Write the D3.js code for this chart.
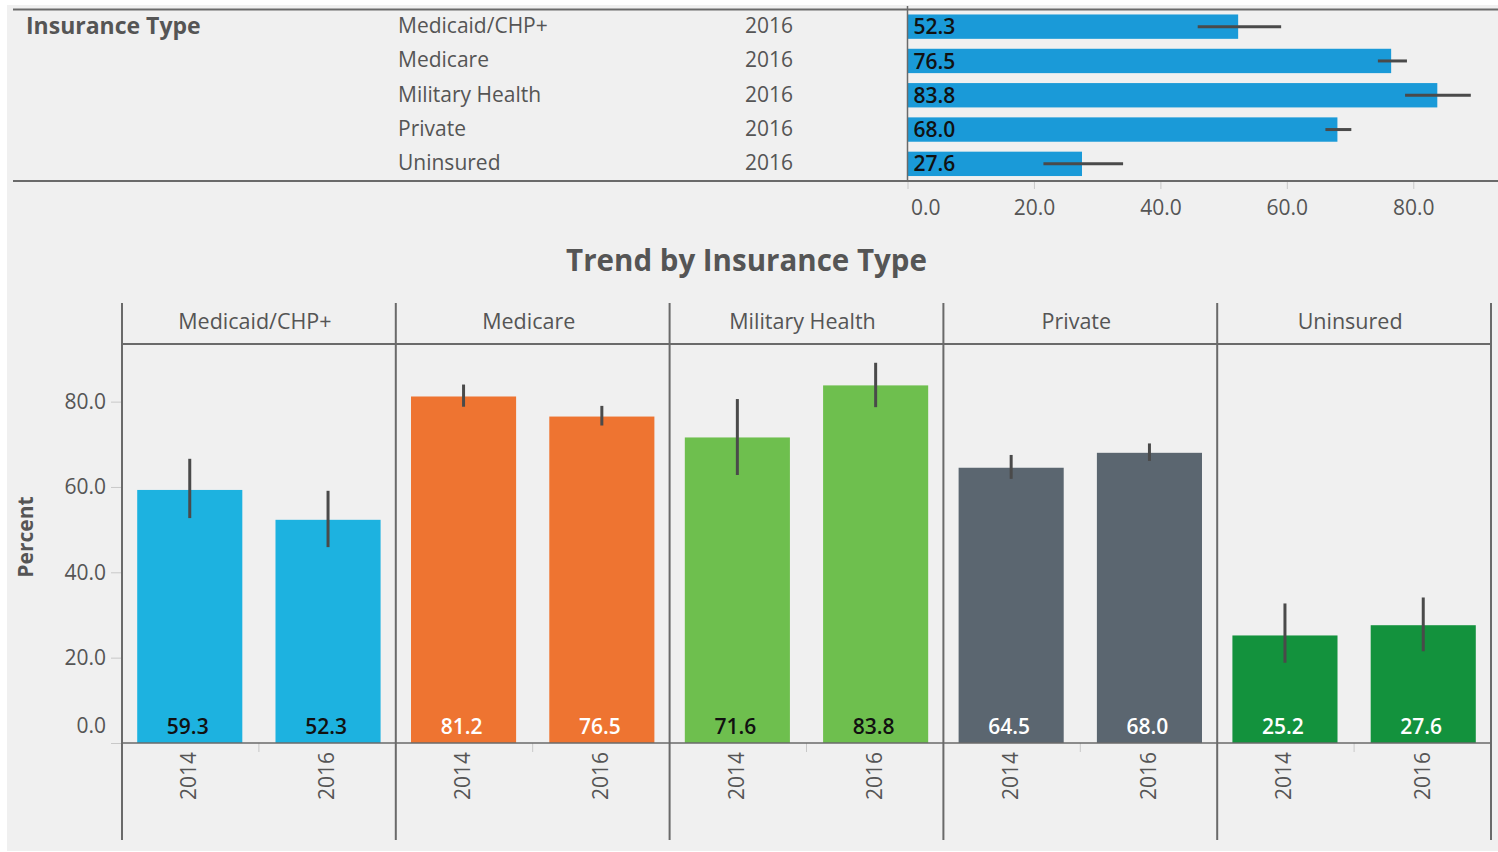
<!DOCTYPE html>
<html>
<head>
<meta charset="utf-8">
<script src="https://cdn.jsdelivr.net/npm/d3@7"></script>
<style>
  body { margin: 0; background: #fff; }
  text { font-family: "Open Sans", "Noto Sans", sans-serif; fill: #555; }
</style>
</head>
<body>
<div id="chart"></div>
<script>
// insurance types and survey years
var types = ["Medicaid/CHP+", "Medicare", "Military Health", "Private", "Uninsured"];
var years = ["2014", "2016"];

// percent values per year
var values2014 = [59.3, 81.2, 71.6, 64.5, 25.2];
var values2016 = [52.3, 76.5, 83.8, 68.0, 27.6];

// confidence intervals
var low2014 = [52.7, 78.8, 62.8, 61.9, 18.8];
var high2014 = [66.6, 84.0, 80.6, 67.5, 32.7];
var low2016 = [45.9, 74.4, 78.7, 66.1, 21.5];
var high2016 = [59.1, 79.0, 89.1, 70.2, 34.1];

var tickValues = [0, 20, 40, 60, 80];

var colors = ["#1db2e0", "#ee7431", "#6ebf4e", "#5b6670", "#13923d"];
var labelColors = ["#111", "#fff", "#111", "#fff", "#fff"];
var topBarColor = "#1a9ad8";
var lineColor = "#6a6a6a";
var tickColor = "#c8c8c8";

var W = 1498, H = 852;
var svg = d3.select("#chart").append("svg")
    .attr("width", W).attr("height", H);

svg.append("rect")
    .attr("x", 7).attr("y", 5)
    .attr("width", W - 7).attr("height", 846)
    .attr("fill", "#f0f0f0");

var fmt = d3.format(".1f");

// ---------- top: 2016 summary bars ----------
var topTop = 9.5, topBottom = 181;
var xTop = d3.scaleLinear().domain([0, 93.4]).range([907.5, W]);
var yTop = d3.scaleBand().domain(types).range([topTop, topBottom]).paddingInner(0.29).paddingOuter(0.145);

var topG = svg.append("g");

topG.append("text")
    .attr("x", 26).attr("y", yTop(types[0]) + yTop.bandwidth() / 2 - 1)
    .attr("dy", "0.35em")
    .style("font-size", "23px").style("font-weight", "bold")
    .text("Insurance Type");

topG.selectAll(".row-label").data(types).enter().append("text")
    .attr("class", "row-label")
    .attr("x", 398)
    .attr("y", d => yTop(d) + yTop.bandwidth() / 2 - 1)
    .attr("dy", "0.35em")
    .style("font-size", "21px")
    .text(d => d);

topG.selectAll(".row-year").data(types).enter().append("text")
    .attr("class", "row-year")
    .attr("x", 745)
    .attr("y", d => yTop(d) + yTop.bandwidth() / 2 - 1)
    .attr("dy", "0.35em")
    .style("font-size", "21px")
    .text(years[1]);

topG.selectAll(".top-bar").data(types).enter().append("rect")
    .attr("class", "top-bar")
    .attr("x", xTop(0))
    .attr("y", d => yTop(d))
    .attr("width", (d, i) => xTop(values2016[i]) - xTop(0))
    .attr("height", yTop.bandwidth())
    .attr("fill", topBarColor);

topG.selectAll(".top-err").data(types).enter().append("line")
    .attr("class", "top-err")
    .attr("x1", (d, i) => xTop(low2016[i]))
    .attr("x2", (d, i) => xTop(high2016[i]))
    .attr("y1", d => yTop(d) + yTop.bandwidth() / 2)
    .attr("y2", d => yTop(d) + yTop.bandwidth() / 2)
    .attr("stroke", "#4a4a4a").attr("stroke-width", 3);

topG.selectAll(".top-val").data(types).enter().append("text")
    .attr("class", "top-val")
    .attr("x", xTop(0) + 6)
    .attr("y", d => yTop(d) + yTop.bandwidth() / 2)
    .attr("dy", "0.36em")
    .style("font-size", "21px").style("font-weight", 600)
    .style("fill", "#111")
    .text((d, i) => fmt(values2016[i]));

// top axis
var topAxis = topG.append("g")
    .attr("transform", "translate(0," + topBottom + ")")
    .call(d3.axisBottom(xTop).tickValues(tickValues).tickFormat(fmt).tickSize(8).tickPadding(11));
topAxis.select(".domain").remove();
topAxis.selectAll("line").attr("stroke", tickColor);
topAxis.selectAll("text")
    .style("font-size", "21px").style("fill", "#555").style("font-family", null)
    .attr("text-anchor", d => d === 0 ? "start" : "middle")
    .attr("x", d => d === 0 ? 3 : 0);

topG.append("line")
    .attr("x1", 13).attr("x2", W).attr("y1", topTop).attr("y2", topTop)
    .attr("stroke", lineColor).attr("stroke-width", 2);
topG.append("line")
    .attr("x1", 13).attr("x2", W).attr("y1", topBottom).attr("y2", topBottom)
    .attr("stroke", lineColor).attr("stroke-width", 2);
topG.append("line")
    .attr("x1", xTop(0)).attr("x2", xTop(0)).attr("y1", 6).attr("y2", topBottom)
    .attr("stroke", lineColor).attr("stroke-width", 1.5);

// ---------- bottom: trend by insurance type ----------
var left = 122, right = 1491;
var headTop = 303, headBottom = 344, base = 743, axisBottom = 840;

svg.append("text")
    .attr("x", (left + right) / 2 - 60).attr("y", 261)
    .attr("dy", "0.35em")
    .attr("text-anchor", "middle")
    .style("font-size", "29.5px").style("font-weight", "bold")
    .text("Trend by Insurance Type");

var xPanel = d3.scaleBand().domain(types).range([left, right]);
var xYear = d3.scaleBand().domain(years).range([0, xPanel.bandwidth()]).paddingInner(0.24).paddingOuter(0.11);
var y = d3.scaleLinear().domain([0, 93.5]).range([base, headBottom]);

// y axis
var yAxis = svg.append("g")
    .attr("transform", "translate(" + left + ",0)")
    .call(d3.axisLeft(y).tickValues(tickValues).tickFormat(fmt).tickSize(11).tickPadding(5));
yAxis.select(".domain").remove();
yAxis.selectAll("line").attr("stroke", tickColor);
yAxis.selectAll("text")
    .style("font-size", "21px").style("fill", "#555").style("font-family", null)
    .attr("y", d => d === 0 ? -17 : 0);

svg.append("text")
    .attr("transform", "translate(26,537) rotate(-90)")
    .attr("text-anchor", "middle").attr("dy", "0.35em")
    .style("font-size", "21px").style("font-weight", "bold")
    .text("Percent");

var panels = svg.selectAll(".panel").data(types).enter().append("g")
    .attr("class", "panel")
    .attr("transform", d => "translate(" + xPanel(d) + ",0)");

panels.append("text")
    .attr("x", xPanel.bandwidth() / 2 - 4).attr("y", 321)
    .attr("dy", "0.35em").attr("text-anchor", "middle")
    .style("font-size", "21.5px")
    .text(d => d);

var rows = [];
types.forEach(function(t, i) {
    rows.push({type: t, i: i, year: years[0], value: values2014[i], low: low2014[i], high: high2014[i]});
    rows.push({type: t, i: i, year: years[1], value: values2016[i], low: low2016[i], high: high2016[i]});
});

panels.each(function(t) {
    var g = d3.select(this);
    var data = rows.filter(r => r.type === t);

    g.selectAll(".bar").data(data).enter().append("rect")
        .attr("class", "bar")
        .attr("x", d => xYear(d.year))
        .attr("y", d => y(d.value))
        .attr("width", xYear.bandwidth())
        .attr("height", d => y(0) - y(d.value))
        .attr("fill", d => colors[d.i]);

    g.selectAll(".err").data(data).enter().append("line")
        .attr("class", "err")
        .attr("x1", d => xYear(d.year) + xYear.bandwidth() / 2)
        .attr("x2", d => xYear(d.year) + xYear.bandwidth() / 2)
        .attr("y1", d => y(d.low))
        .attr("y2", d => y(d.high))
        .attr("stroke", "#4a4a4a").attr("stroke-width", 3);

    g.selectAll(".val").data(data).enter().append("text")
        .attr("class", "val")
        .attr("x", d => xYear(d.year) + xYear.bandwidth() / 2 - 2)
        .attr("y", base - 17)
        .attr("dy", "0.36em").attr("text-anchor", "middle")
        .style("font-size", "21px").style("font-weight", 600)
        .style("fill", d => labelColors[d.i])
        .text(d => fmt(d.value));

    g.selectAll(".yr").data(data).enter().append("text")
        .attr("class", "yr")
        .attr("transform", d => "translate(" + (xYear(d.year) + xYear.bandwidth() / 2 - 1) + "," + (base + 9) + ") rotate(-90)")
        .attr("text-anchor", "end").attr("dy", "0.35em")
        .style("font-size", "21px")
        .text(d => d.year);

    // separator tick between the two years
    g.append("line")
        .attr("x1", xPanel.bandwidth() / 2).attr("x2", xPanel.bandwidth() / 2)
        .attr("y1", base).attr("y2", base + 9)
        .attr("stroke", tickColor).attr("stroke-width", 1);
});

// frame lines
var edges = types.map(t => xPanel(t)).concat([right]);
svg.selectAll(".vline").data(edges).enter().append("line")
    .attr("class", "vline")
    .attr("x1", d => d).attr("x2", d => d)
    .attr("y1", headTop).attr("y2", axisBottom)
    .attr("stroke", lineColor).attr("stroke-width", 2);
svg.append("line")
    .attr("x1", left).attr("x2", right).attr("y1", headBottom).attr("y2", headBottom)
    .attr("stroke", lineColor).attr("stroke-width", 2);
svg.append("line")
    .attr("x1", left).attr("x2", right).attr("y1", base).attr("y2", base)
    .attr("stroke", lineColor).attr("stroke-width", 1.5);
</script>
</body>
</html>
